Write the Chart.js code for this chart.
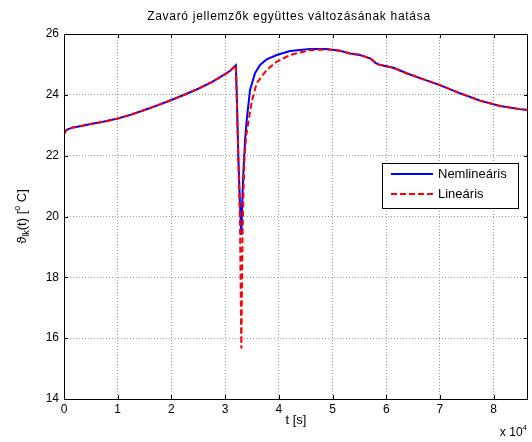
<!DOCTYPE html>
<html>
<head>
<meta charset="utf-8">
<script src="https://cdn.jsdelivr.net/npm/chart.js@4.4.0/dist/chart.umd.min.js"></script>
<style>
  html, body { margin: 0; padding: 0; background: #fff; }
  #wrap { width: 532px; height: 442px; }
</style>
</head>
<body>
<div id="wrap"><canvas id="chart" width="532" height="442"></canvas></div>
<script>
'use strict';

// ---- Data (t in seconds, temperature in °C) ----

const xTicks = [0, 10000, 20000, 30000, 40000, 50000, 60000, 70000, 80000];
const yTicks = [14, 16, 18, 20, 22, 24, 26];

// shared part before the disturbance
const tRise = [0, 500, 1500, 3000, 5000, 7500, 10000, 12500, 15000, 17500, 20000, 22500, 25000, 27500, 30000, 31000, 32000];
const vRise = [22.72, 22.85, 22.92, 22.97, 23.04, 23.12, 23.22, 23.35, 23.5, 23.66, 23.83, 24.01, 24.2, 24.42, 24.68, 24.8, 24.97];

// dip + recovery, nonlinear model
const tNonlinDip = [32160, 32460, 32770, 33020, 33200, 33390, 33710, 34020, 34640, 35570, 36500, 37750, 39610, 42090, 45810, 48920, 51400];
const vNonlinDip = [24.05, 21.96, 20.4, 19.39, 20.5, 21.42, 22.5, 23.17, 24.16, 24.71, 24.98, 25.17, 25.31, 25.44, 25.51, 25.51, 25.45];

// dip + recovery, linear model
const tLinDip = [32160, 32460, 32770, 32900, 33020, 33110, 33240, 33430, 33610, 33890, 34320, 34950, 35880, 37750, 39610, 42090, 45810, 48920, 51400];
const vLinDip = [24.05, 21.96, 19.8, 17.6, 15.66, 17.3, 19.3, 20.9, 21.9, 22.6, 23.1, 23.77, 24.38, 24.82, 25.09, 25.31, 25.47, 25.49, 25.45];

// shared tail
const tTail = [53260, 55120, 56980, 57600, 58000, 58530, 59780, 61320, 63820, 66290, 70000, 73740, 77470, 81190, 84920, 86400];
const vTail = [25.36, 25.31, 25.2, 25.12, 25.05, 25.0, 24.95, 24.89, 24.71, 24.55, 24.32, 24.05, 23.81, 23.63, 23.53, 23.5];

const seriesNames = ['Nemlineáris', 'Lineáris'];
const titleText = 'Zavaró jellemzők együttes változásának hatása';

function toPoints(ts, vs) {
  return ts.map((t, i) => ({ x: t, y: vs[i] }));
}

const nonlinData = toPoints([...tRise, ...tNonlinDip, ...tTail], [...vRise, ...vNonlinDip, ...vTail]);
const linData = toPoints([...tRise, ...tLinDip, ...tTail], [...vRise, ...vLinDip, ...vTail]);

const FONT = '"Liberation Sans", Arial, Helvetica, sans-serif';

// ---- MATLAB-ish frame, labels, legend ----

function textParts(ctx, parts, x, y, align) {
  // parts: [text, size, dy]
  let total = 0;
  parts.forEach(([s, size]) => { ctx.font = `${size}px ${FONT}`; total += ctx.measureText(s).width; });
  let cx = align === 'center' ? x - total / 2 : align === 'right' ? x - total : x;
  parts.forEach(([s, size, dy]) => {
    ctx.font = `${size}px ${FONT}`;
    ctx.fillText(s, cx, y + dy);
    cx += ctx.measureText(s).width;
  });
}

const framePlugin = {
  id: 'frame',
  afterDraw(chart) {
    const { ctx, chartArea: a, scales } = chart;
    ctx.save();
    ctx.strokeStyle = '#000';
    ctx.lineWidth = 1;
    ctx.strokeRect(a.left + 0.5, a.top + 0.5, a.right - a.left - 1, a.bottom - a.top);

    // inward ticks
    ctx.beginPath();
    xTicks.forEach(v => {
      const px = Math.round(scales.x.getPixelForValue(v)) + 0.5;
      ctx.moveTo(px, a.bottom); ctx.lineTo(px, a.bottom - 4);
      ctx.moveTo(px, a.top); ctx.lineTo(px, a.top + 4);
    });
    yTicks.forEach(v => {
      const py = Math.round(scales.y.getPixelForValue(v)) + 0.5;
      ctx.moveTo(a.left, py); ctx.lineTo(a.left + 4, py);
      ctx.moveTo(a.right, py); ctx.lineTo(a.right - 4, py);
    });
    ctx.stroke();

    ctx.fillStyle = '#000';
    ctx.textBaseline = 'alphabetic';

    // title (MATLAB renders it with loose spacing)
    ctx.font = `12px ${FONT}`;
    ctx.textAlign = 'center';
    ctx.letterSpacing = '0.7px';
    ctx.fillText(titleText, (a.left + a.right) / 2 - 7, 20);
    ctx.letterSpacing = '0px';

    // x label
    ctx.font = `13px ${FONT}`;
    ctx.fillText('t [s]', (a.left + a.right) / 2, 424);
    ctx.textAlign = 'left';
    textParts(ctx, [['x 10', 12, 0], ['4', 8, -6]], 527, 436, 'right');

    // y label (rotated)
    ctx.save();
    ctx.translate(26, (a.top + a.bottom) / 2);
    ctx.rotate(-Math.PI / 2);
    textParts(ctx, [['ϑ', 13, 0], ['lk', 9, 3], ['(t) [', 13, 0], ['o', 9, -6], [' C]', 13, 0]], 0, 0, 'center');
    ctx.restore();

    // legend
    const lx = 382, ly = 163, lw = 136, lh = 45;
    ctx.fillStyle = '#fff';
    ctx.fillRect(lx, ly, lw, lh);
    ctx.strokeStyle = '#000';
    ctx.strokeRect(lx + 0.5, ly + 0.5, lw, lh);
    const rows = [
      { name: seriesNames[0], color: '#0000ff', dash: [], y: 174 },
      { name: seriesNames[1], color: '#ff0000', dash: [6, 3], y: 194 },
    ];
    rows.forEach(r => {
      ctx.strokeStyle = r.color;
      ctx.lineWidth = 2;
      ctx.setLineDash(r.dash);
      ctx.beginPath();
      ctx.moveTo(391, r.y); ctx.lineTo(433, r.y);
      ctx.stroke();
      ctx.setLineDash([]);
      ctx.fillStyle = '#000';
      ctx.font = `13px ${FONT}`;
      ctx.textBaseline = 'middle';
      ctx.fillText(r.name, 438, r.y);
    });
    ctx.restore();
  },
};

// ---- Chart ----

new Chart(document.getElementById('chart'), {
  type: 'line',
  data: {
    datasets: [
      {
        label: seriesNames[0],
        data: nonlinData,
        borderColor: '#0000ff',
        borderWidth: 2,
        pointRadius: 0,
        tension: 0,
        order: 1,
      },
      {
        label: seriesNames[1],
        data: linData,
        borderColor: '#ff0000',
        borderWidth: 2,
        borderDash: [6, 3],
        pointRadius: 0,
        tension: 0,
        order: 0,
      },
    ],
  },
  options: {
    responsive: false,
    animation: false,
    devicePixelRatio: 1,
    layout: { padding: { top: 34, right: 4, left: 0, bottom: 0 } },
    plugins: {
      legend: { display: false },
      tooltip: { enabled: false },
      title: { display: false },
    },
    scales: {
      x: {
        type: 'linear',
        min: 0,
        max: 86400,
        afterBuildTicks: s => { s.ticks = xTicks.map(v => ({ value: v })); },
        afterFit: s => { s.height = 43; },
        ticks: {
          color: '#000',
          font: { family: FONT, size: 12 },
          padding: 3,
          maxRotation: 0,
          callback: v => String(v / 10000),
        },
        grid: { color: '#9a9a9a', drawTicks: false, lineWidth: 1 },
        border: { display: false, dash: [1, 2] },
      },
      y: {
        min: 14,
        max: 26,
        afterBuildTicks: s => { s.ticks = yTicks.map(v => ({ value: v })); },
        afterFit: s => { s.width = 64; },
        ticks: {
          color: '#000',
          font: { family: FONT, size: 12 },
          padding: 5,
        },
        grid: { color: '#9a9a9a', drawTicks: false, lineWidth: 1 },
        border: { display: false, dash: [1, 2] },
      },
    },
  },
  plugins: [framePlugin],
});
</script>
</body>
</html>
